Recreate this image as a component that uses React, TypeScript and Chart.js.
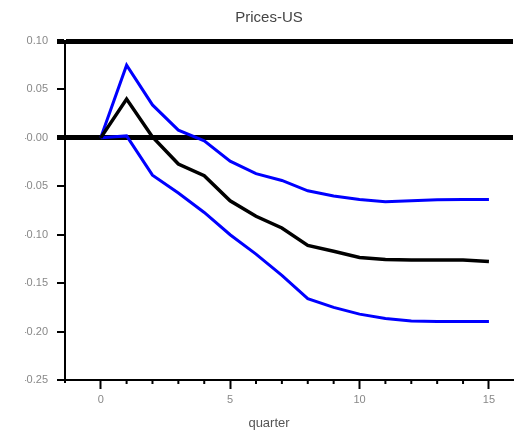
import React, { useEffect, useRef } from "react";
import { Chart, registerables } from "chart.js";

Chart.register(...registerables);

const quarters = [0, 1, 2, 3, 4, 5, 6, 7, 8, 9, 10, 11, 12, 13, 14, 15];
const median = [0, 0.04, 0.001, -0.027, -0.039, -0.065, -0.081, -0.093, -0.111, -0.117, -0.1235, -0.1256, -0.126, -0.126, -0.1262, -0.1276];
const upper = [0, 0.075, 0.034, 0.008, -0.003, -0.024, -0.037, -0.044, -0.0547, -0.06, -0.0636, -0.066, -0.065, -0.064, -0.0636, -0.0636];
const lower = [0, 0.002, -0.0385, -0.057, -0.077, -0.1, -0.12, -0.142, -0.166, -0.175, -0.182, -0.1865, -0.189, -0.1896, -0.1896, -0.1896];

const xTickValues = [0, 5, 10, 15];
const xTickLabels = ["0", "5", "10", "15"];
const xMinorTicks = [1, 2, 3, 4, 6, 7, 8, 9, 11, 12, 13, 14];
const yTickValues = [0.1, 0.05, 0, -0.05, -0.1, -0.15, -0.2, -0.25];
const yTickLabels = ["0.10", "0.05", "-0.00", "-0.05", "-0.10", "-0.15", "-0.20", "-0.25"];
const thickLines = [0.1, 0];

const FONT = "'Liberation Sans', Arial, sans-serif";

const minorTickPlugin = {
  id: "minorTicks",
  afterDraw(chart: any) {
    const x = chart.scales.x;
    const ctx = chart.ctx;
    const bottom = chart.chartArea.bottom;
    ctx.save();
    ctx.strokeStyle = "#000";
    ctx.lineWidth = 2;
    xMinorTicks.forEach((v) => {
      const px = x.getPixelForValue(v);
      ctx.beginPath();
      ctx.moveTo(px, bottom);
      ctx.lineTo(px, bottom + 4);
      ctx.stroke();
    });
    ctx.restore();
  },
};

const isThick = (v: number) => thickLines.some((t) => Math.abs(t - v) < 1e-9);

export default function App() {
  const ref = useRef<HTMLCanvasElement | null>(null);
  useEffect(() => {
    if (!ref.current) return;
    const mk = (arr: number[]) => quarters.map((q, i) => ({ x: q, y: arr[i] }));
    const chart = new Chart(ref.current, {
      type: "line",
      data: {
        datasets: [
          { label: "median", data: mk(median), borderColor: "#000000", borderWidth: 3.5, pointRadius: 0, tension: 0 },
          { label: "upper", data: mk(upper), borderColor: "#0000ff", borderWidth: 3, pointRadius: 0, tension: 0 },
          { label: "lower", data: mk(lower), borderColor: "#0000ff", borderWidth: 3, pointRadius: 0, tension: 0 },
        ],
      },
      options: {
        animation: false,
        responsive: false,
        layout: { padding: { left: 25, right: 1, top: 0, bottom: 0 } },
        plugins: {
          legend: { display: false },
          tooltip: { enabled: false },
          title: {
            display: true,
            text: "Prices-US",
            color: "#444",
            font: { family: FONT, size: 15, weight: "normal" },
            padding: { top: 9, bottom: 14 },
          },
          subtitle: {
            display: true,
            position: "bottom",
            text: "quarter",
            color: "#555",
            font: { family: FONT, size: 13, weight: "normal" },
            padding: { top: 0, bottom: 0 },
          },
        },
        scales: {
          x: {
            type: "linear",
            min: -1.38,
            max: 15.93,
            afterBuildTicks: (s: any) => {
              s.ticks = xTickValues.map((v) => ({ value: v }));
            },
            afterFit: (s: any) => {
              s.height = 35.4;
            },
            ticks: {
              callback: (v: any) => {
                const i = xTickValues.indexOf(Number(v));
                return i >= 0 ? xTickLabels[i] : "";
              },
              color: "#888",
              font: { family: FONT, size: 11 },
              padding: 4,
              maxRotation: 0,
            },
            grid: {
              drawOnChartArea: false,
              drawTicks: true,
              tickLength: 9,
              tickWidth: 2,
              tickColor: "#000",
            },
            border: { display: true, color: "#000", width: 2 },
          },
          y: {
            type: "linear",
            min: -0.25,
            max: 0.1,
            afterBuildTicks: (s: any) => {
              s.ticks = yTickValues.map((v) => ({ value: v }));
            },
            afterFit: (s: any) => {
              s.width = 40;
            },
            ticks: {
              callback: (v: any) => {
                const i = yTickValues.findIndex((t) => Math.abs(t - Number(v)) < 1e-9);
                return i >= 0 ? yTickLabels[i] : "";
              },
              color: "#888",
              font: { family: FONT, size: 11 },
              padding: 9,
            },
            grid: {
              drawOnChartArea: true,
              drawTicks: true,
              tickLength: 8,
              lineWidth: (c: any) => (isThick(c.tick.value) ? 5 : 0),
              color: (c: any) => (isThick(c.tick.value) ? "#000" : "rgba(0,0,0,0)"),
              tickWidth: (c: any) => (isThick(c.tick.value) ? 5 : 2),
              tickColor: "#000",
            },
            border: { display: true, color: "#000", width: 2 },
          },
        },
      } as any,
      plugins: [minorTickPlugin],
    });
    return () => chart.destroy();
  }, []);
  return (
    <div style={{ position: "absolute", left: 0, top: 0, width: 514, height: 431 }}>
      <canvas ref={ref} width={514} height={431} style={{ display: "block" }} />
    </div>
  );
}
